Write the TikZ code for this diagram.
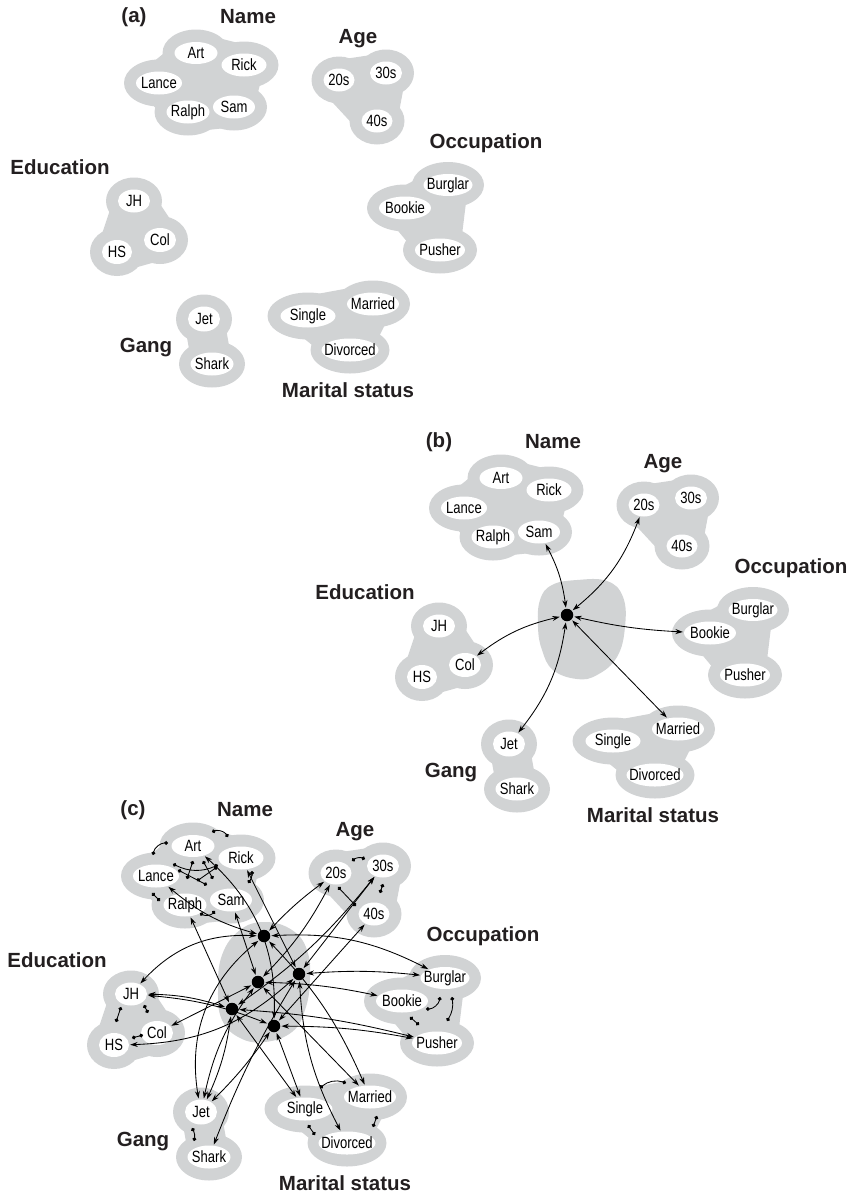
\documentclass[tikz,border=0pt]{standalone}
\usepackage{fontspec}
\setmainfont{Liberation Sans}
\newfontfamily\itemfont[FakeStretch=0.8]{Liberation Sans}
\usetikzlibrary{arrows.meta,shapes.geometric}
\definecolor{blobgray}{RGB}{209,211,212}
\definecolor{ink}{RGB}{35,31,32}

\tikzset{
  itemshape/.style={ellipse, fill=white, inner sep=0pt},
  itemtext/.style={font=\itemfont\fontsize{16.3}{16}\selectfont, text=black, inner sep=0pt},
  grouplabel/.style={font=\fontsize{20.5}{21}\selectfont\bfseries, text=ink, inner sep=0pt},
  hidden/.style={circle, fill=black, minimum size=12.5pt, inner sep=0pt},
  conn/.style={{Stealth[length=7.5pt,width=5pt]}-{Stealth[length=7.5pt,width=5pt]},
               line width=0.85pt, shorten <=1pt, shorten >=1pt},
  inhib/.style={{Circle[length=3.8pt]}-{Circle[length=3.8pt]}, line width=0.85pt},
  blobline/.style={blobgray, line width=40pt, line join=round},
}

% one unit: white ellipse of given size plus its text
\newcommand\gitem[6]{%
  \node[itemshape, minimum width=#4pt, minimum height=#5pt] (#1) at (#2,-#3) {};
  \node[itemtext] (#1t) at (#1) {#6};}

% the six pools of units with their labels, in local coordinates
\newcommand\jsgroups[1]{%
  % Name pool
  \fill[blobgray] (193,-56) ellipse [x radius=33.5, y radius=23.5];
  \fill[blobgray] (241,-68) ellipse [x radius=34.5, y radius=23.5];
  \fill[blobgray] (156,-86) ellipse [x radius=35, y radius=23.5];
  \fill[blobgray] (185,-115) ellipse [x radius=33.5, y radius=23.5];
  \fill[blobgray] (231,-110) ellipse [x radius=33, y radius=23.5];
  \filldraw[blobline] (193,-56) -- (241,-68) -- (231,-110) -- (185,-115) -- (156,-86) -- cycle;
  % Age pool
  \fill[blobgray] (336,-83) ellipse [x radius=27.5, y radius=23.5];
  \fill[blobgray] (383,-76) ellipse [x radius=28, y radius=23.5];
  \fill[blobgray] (374,-124) ellipse [x radius=27.5, y radius=23.5];
  \filldraw[blobline] (336,-83) -- (383,-76) -- (374,-124) -- cycle;
  % Occupation pool
  \fill[blobgray] (445,-188) ellipse [x radius=36, y radius=23];
  \fill[blobgray] (402,-211) ellipse [x radius=38, y radius=23.5];
  \fill[blobgray] (437,-253) ellipse [x radius=37, y radius=23.5];
  \filldraw[blobline] (445,-188) -- (437,-253) -- (402,-211) -- cycle;
  % Education pool
  \fill[blobgray] (131,-204) ellipse [x radius=28, y radius=23.5];
  \fill[blobgray] (114,-255) ellipse [x radius=27, y radius=24];
  \fill[blobgray] (157,-243) ellipse [x radius=28, y radius=24];
  \filldraw[blobline] (131,-204) -- (157,-243) -- (114,-255) -- cycle;
  % Gang pool
  \fill[blobgray] (201,-322) ellipse [x radius=28, y radius=24.5];
  \fill[blobgray] (209,-367) ellipse [x radius=33, y radius=23.5];
  \draw[blobline] (201,-322) -- (209,-367);
  % Marital status pool
  \fill[blobgray] (305,-319) ellipse [x radius=40.5, y radius=23.5];
  \fill[blobgray] (370,-307) ellipse [x radius=37, y radius=23.5];
  \fill[blobgray] (347,-353) ellipse [x radius=39.5, y radius=23.5];
  \filldraw[blobline] (305,-319) -- (370,-307) -- (347,-353) -- cycle;
  % units
  \gitem{#1art}{193}{56}{43}{22}{Art}
  \gitem{#1rick}{241}{68}{45}{23}{Rick}
  \gitem{#1lance}{156}{86}{46}{23}{Lance}
  \gitem{#1ralph}{185}{115}{43}{23}{Ralph}
  \gitem{#1sam}{231}{110}{42}{23}{Sam}
  \gitem{#1twenties}{336}{83}{31}{23}{20s}
  \gitem{#1thirties}{383}{76}{32}{23}{30s}
  \gitem{#1forties}{374}{124}{31}{23}{40s}
  \gitem{#1burglar}{445}{188}{49}{22}{Burglar}
  \gitem{#1bookie}{402}{211}{52}{23}{Bookie}
  \gitem{#1pusher}{437}{253}{50}{23}{Pusher}
  \gitem{#1jh}{131}{204}{32}{23}{JH}
  \gitem{#1hs}{114}{255}{30}{24}{HS}
  \gitem{#1col}{157}{243}{32}{24}{Col}
  \gitem{#1jet}{201}{322}{32}{25}{Jet}
  \gitem{#1shark}{209}{367}{43}{23}{Shark}
  \gitem{#1single}{305}{319}{55}{23}{Single}
  \gitem{#1married}{370}{307}{52}{23}{Married}
  \gitem{#1divorced}{347}{353}{57}{23}{Divorced}
  % pool labels
  \node[grouplabel] (#1lname) at (245,-20) {Name};
  \node[grouplabel] (#1lage) at (355,-42) {Age};
  \node[grouplabel] (#1locc) at (483,-146) {Occupation};
  \node[grouplabel] (#1ledu) at (57,-170) {Education};
  \node[grouplabel] (#1lgang) at (143,-351) {Gang};
  \node[grouplabel] (#1lmar) at (345,-393) {Marital status};
}

\begin{document}
\begin{tikzpicture}[x=1pt,y=1pt]
\useasboundingbox (0,0) rectangle (854,-1195);

% ---------------- (a) ----------------
\begin{scope}[shift={(3,3)}]
  \jsgroups{a}
  \node[grouplabel] (taga) at (131,-20) {(a)};
\end{scope}

% ---------------- (b) ----------------
\fill[blobgray] plot[smooth cycle, tension=0.7] coordinates {
  (540,-600) (552,-585) (577,-580) (607,-581) (623,-597) (625,-627)
  (617,-657) (597,-675) (577,-679) (553,-670) (542,-650) (538,-627)};
\begin{scope}[shift={(308,-422)}]
  \jsgroups{b}
  \node[grouplabel] (tagb) at (131,-20) {(b)};
\end{scope}
\node[hidden] (D) at (567,-615) {};
\draw[conn] (D) to[bend right=10] (bsam);
\draw[conn] (D) to[bend right=15] (btwenties);
\draw[conn] (D) to[bend right=5] (bbookie);
\draw[conn] (D) to (bmarried);
\draw[conn] (D) to[bend left=15] (bjet);
\draw[conn] (D) to[bend right=12] (bcol);

% ---------------- (c) ----------------
\fill[blobgray] plot[smooth cycle, tension=0.7] coordinates {
  (218,-990) (222,-955) (240,-930) (265,-922) (292,-930) (307,-950)
  (310,-980) (305,-1010) (292,-1032) (265,-1042) (240,-1038) (222,-1020)};
\begin{scope}[shift={(0,-790)}]
  \jsgroups{c}
  \node[grouplabel] (tagc) at (133,-20) {(c)};
  % mutual inhibition within each pool
  \draw[inhib] (212,-42) to[bend left=40] (228,-47);
  \draw[inhib] (153,-65) to[bend left=40] (168,-53);
  \draw[inhib] (152,-103) -- (160,-111);
  \draw[inhib] (200,-123) to[bend right=40] (215,-121);
  \draw[inhib] (252,-81) to[bend left=20] (248,-93);
  \draw[inhib] (173,-74) to[bend right=25] (218,-75);
  \draw[inhib] (193,-71) -- (187,-89);
  \draw[inhib] (203,-71) -- (213,-89);
  \draw[inhib] (217,-77) -- (197,-91);
  \draw[inhib] (178,-80) -- (207,-95);
  \draw[inhib] (352,-71) to[bend left=30] (365,-69);
  \draw[inhib] (383,-94) -- (380,-103);
  \draw[inhib] (338,-97) -- (356,-116);
  \draw[inhib] (426,-219) to[bend right=40] (440,-207);
  \draw[inhib] (452,-207) to[bend left=20] (447,-231);
  \draw[inhib] (410,-227) -- (419,-235);
  \draw[inhib] (121,-217) -- (116,-232);
  \draw[inhib] (144,-215) -- (148,-223);
  \draw[inhib] (132,-248) -- (143,-245);
  \draw[inhib] (192,-338) to[bend left=20] (194,-351);
  \draw[inhib] (320,-298) to[bend left=30] (346,-293);
  \draw[inhib] (377,-326) -- (373,-337);
  \draw[inhib] (308,-335) -- (315,-345);
\end{scope}

% hidden instance units
\node[hidden] (H1) at (264,-936) {};
\node[hidden] (H2) at (299,-974) {};
\node[hidden] (H3) at (258,-982) {};
\node[hidden] (H4) at (232,-1009) {};
\node[hidden] (H5) at (274,-1026) {};

% Lance
\draw[conn] (H1) to[bend left=12] (clance);
\draw[conn] (H1) to[bend left=5] (ctwenties);
\draw[conn] (H1) to[bend right=25] (cjh);
\draw[conn] (H1) to[bend left=10] (cmarried);
\draw[conn] (H1) to[bend left=15] (cburglar);
\draw[conn] (H1) to[bend right=30] (cjet);
% Rick
\draw[conn] (H2) to (crick);
\draw[conn] (H2) to (cthirties);
\draw[conn] (H2) to[bend left=20] (chs);
\draw[conn] (H2) to[bend right=12] (cdivorced);
\draw[conn] (H2) to[bend left=5] (cburglar);
\draw[conn] (H2) to[bend right=5] (cshark);
% Sam
\draw[conn] (H3) to (csam);
\draw[conn] (H3) to[bend right=8] (ctwenties);
\draw[conn] (H3) to (ccol);
\draw[conn] (H3) to (cmarried);
\draw[conn] (H3) to[bend left=5] (cbookie);
\draw[conn] (H3) to[bend right=12] (cjet);
% Ralph
\draw[conn] (H4) to (cralph);
\draw[conn] (H4) to[bend right=8] (cthirties);
\draw[conn] (H4) to[bend right=8] (cjh);
\draw[conn] (H4) to (csingle);
\draw[conn] (H4) to[bend left=5] (cpusher);
\draw[conn] (H4) to[bend left=8] (cjet);
% Art
\draw[conn] (H5) to[bend right=25] (cart);
\draw[conn] (H5) to (cforties);
\draw[conn] (H5) to[bend right=8] (cjh);
\draw[conn] (H5) to (csingle);
\draw[conn] (H5) to[bend left=5] (cpusher);
\draw[conn] (H5) to[bend left=5] (cjet);
\end{tikzpicture}
\end{document}
